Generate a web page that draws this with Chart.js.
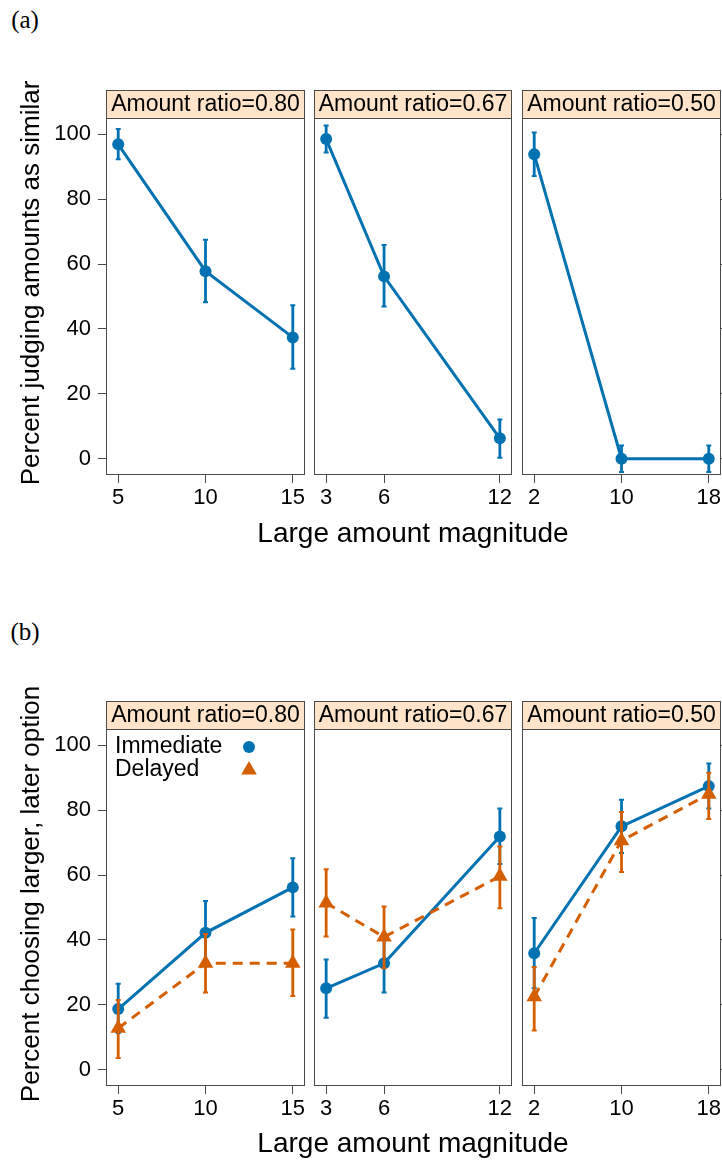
<!DOCTYPE html>
<html>
<head>
<meta charset="utf-8">
<script src="https://cdn.jsdelivr.net/npm/chart.js@4/dist/chart.umd.min.js"></script>
<style>
  html, body { margin: 0; padding: 0; background: #fff; }
  #page { position: relative; width: 722px; height: 1162px; overflow: hidden; font-family: "Liberation Sans", Arial, sans-serif; }
  canvas { position: absolute; }
  .lbl { position: absolute; white-space: nowrap; color: #000; transform: translate(-50%, -50%); }
  .ylab { transform: translate(-50%, -50%) rotate(-90deg); }
  .tag { position: absolute; font-family: "Liberation Serif", serif; font-size: 25px; transform: translate(-50%, -50%); }
</style>
</head>
<body>
<div id="page"></div>
<script>
// facets
const RATIOS = ['0.80', '0.67', '0.50'];
const MAGNITUDES = [[5, 10, 15], [3, 6, 12], [2, 10, 18]];
const Y_TICKS = [0, 20, 40, 60, 80, 100];

// (a) percent judging amounts as similar, with error bar ends
const SIMILAR    = [[96.9, 57.8, 37.4], [98.5, 56.2, 6.3], [93.8, 0, 0]];
const SIMILAR_LO = [[92.3, 48.2, 27.7], [94.4, 46.9, 0.3], [87.1, -4.1, -4.1]];
const SIMILAR_HI = [[101.6, 67.5, 47.3], [102.7, 65.9, 12.1], [100.5, 4.1, 4.1]];

// (b) percent choosing larger, later option
const IMMEDIATE    = [[18.7, 42.2, 56.2], [25.1, 32.8, 71.9], [35.9, 75.0, 87.4]];
const IMMEDIATE_LO = [[11.3, 32.8, 47.2], [16.0, 23.8, 63.4], [25.1, 66.8, 80.5]];
const IMMEDIATE_HI = [[26.5, 52.0, 65.2], [34.0, 41.8, 80.5], [46.8, 83.2, 94.4]];
const DELAYED      = [[12.8, 32.8, 32.8], [51.4, 40.9, 59.6], [22.5, 70.6, 84.9]];
const DELAYED_LO   = [[3.6, 23.8, 22.7], [41.1, 31.3, 49.8], [12.1, 60.9, 77.3]];
const DELAYED_HI   = [[21.5, 41.8, 43.2], [61.8, 50.3, 68.8], [31.7, 79.4, 91.5]];

const BLUE = '#0072B2', ORANGE = '#D55E00', AXIS = '#4a4a4a', STRIP_FILL = '#FFE4CA';
const STRIP_H = 28, PLOT_H = 357, X_H = 45;
const FACET_LEFT = [106, 313, 522], FACET_W = 199;
const PANEL_TOP = [90, 701];

Chart.defaults.font.family = '"Liberation Sans", Arial, sans-serif';
const page = document.getElementById('page');

const boxPlugin = {
  id: 'box',
  beforeDatasetsDraw(chart) {
    const {ctx, chartArea: a} = chart;
    ctx.save();
    ctx.strokeStyle = AXIS;
    ctx.lineWidth = 1;
    ctx.strokeRect(a.left + 0.5, a.top + 0.5, a.right - a.left - 1, a.bottom - a.top - 1);
    ctx.restore();
  }
};

const errorBars = {
  id: 'errorBars',
  afterDatasetDraw(chart, args) {
    const ds = chart.data.datasets[args.index];
    if (!ds.lo) return;
    const {ctx, scales: {x, y}} = chart;
    ctx.save();
    ctx.setLineDash([]);
    ctx.strokeStyle = ds.borderColor;
    ds.data.forEach((p, i) => {
      const px = x.getPixelForValue(p.x);
      const y1 = y.getPixelForValue(ds.lo[i]);
      const y2 = y.getPixelForValue(ds.hi[i]);
      ctx.lineWidth = 2.8;
      ctx.beginPath();
      ctx.moveTo(px, y1);
      ctx.lineTo(px, y2);
      ctx.stroke();
      ctx.lineWidth = 2;
      ctx.beginPath();
      ctx.moveTo(px - 2.5, y1); ctx.lineTo(px + 2.5, y1);
      ctx.moveTo(px - 2.5, y2); ctx.lineTo(px + 2.5, y2);
      ctx.stroke();
    });
    ctx.restore();
  }
};

const stripPlugin = {
  id: 'strip',
  afterDraw(chart, args, opts) {
    const {ctx, chartArea: a} = chart;
    ctx.save();
    ctx.fillStyle = STRIP_FILL;
    ctx.fillRect(a.left, a.top - STRIP_H, a.right - a.left, STRIP_H);
    ctx.strokeStyle = AXIS;
    ctx.lineWidth = 1;
    ctx.strokeRect(a.left + 0.5, a.top - STRIP_H + 0.5, a.right - a.left - 1, STRIP_H);
    ctx.fillStyle = '#000';
    ctx.font = '23px "Liberation Sans", Arial, sans-serif';
    ctx.textAlign = 'center';
    ctx.textBaseline = 'middle';
    ctx.fillText(opts.text, (a.left + a.right) / 2, a.top - STRIP_H / 2 + 1);
    ctx.restore();
  }
};

const keyPlugin = {
  id: 'key',
  afterDraw(chart, args, opts) {
    if (!opts.show) return;
    const {ctx, chartArea: a} = chart;
    ctx.save();
    ctx.font = '23px "Liberation Sans", Arial, sans-serif';
    ctx.textBaseline = 'middle';
    ctx.textAlign = 'left';
    const rows = [chart.data.datasets[0], chart.data.datasets[1]];
    rows.forEach((ds, i) => {
      const yy = a.top + 18 + i * 23;
      ctx.fillStyle = '#000';
      ctx.fillText(ds.label, a.left + 9, yy);
      ctx.fillStyle = ds.backgroundColor;
      Chart.helpers.drawPoint(ctx, {pointStyle: ds.pointStyle, radius: ds.pointRadius, rotation: 0, borderWidth: 0}, a.left + 143, yy);
    });
    ctx.restore();
  }
};

function series(label, vals, lo, hi, m, color, style, dashed) {
  return {
    label,
    data: vals.map((v, i) => ({x: m[i], y: v})),
    lo, hi,
    borderColor: color,
    backgroundColor: color,
    borderWidth: 3,
    borderDash: dashed ? [10, 7] : [],
    pointStyle: style,
    pointRadius: style === 'triangle' ? 9 : 6,
    pointBorderWidth: 0,
    pointBackgroundColor: color,
    clip: false,
    order: dashed ? 0 : 1
  };
}

function noPad(s) {
  s.paddingLeft = 0; s.paddingRight = 0; s.paddingTop = 0; s.paddingBottom = 0;
}

function facet(p, j, datasets, showKey) {
  const m = MAGNITUDES[j];
  const pad = 0.07 * (m[m.length - 1] - m[0]);
  const first = j === 0, last = j === 2;
  const cLeft = first ? 0 : FACET_LEFT[j] - 4;
  const cRight = last ? 722 : FACET_LEFT[j] + FACET_W + 4;
  const cv = document.createElement('canvas');
  cv.width = cRight - cLeft;
  cv.height = STRIP_H + PLOT_H + X_H;
  cv.style.left = cLeft + 'px';
  cv.style.top = PANEL_TOP[p] + 'px';
  page.appendChild(cv);

  new Chart(cv, {
    type: 'line',
    data: {datasets},
    options: {
      responsive: false,
      animation: false,
      devicePixelRatio: 1,
      layout: {
        autoPadding: false,
        padding: {top: STRIP_H, left: first ? 0 : 4, right: last ? 0 : 4, bottom: 0}
      },
      plugins: {
        legend: {display: false},
        tooltip: {enabled: false},
        strip: {text: 'Amount ratio=' + RATIOS[j]},
        key: {show: showKey}
      },
      scales: {
        x: {
          type: 'linear',
          min: m[0] - pad,
          max: m[m.length - 1] + pad,
          afterBuildTicks: s => { s.ticks = m.map(v => ({value: v})); },
          afterFit: s => { s.height = X_H; noPad(s); },
          grid: {drawOnChartArea: false, tickLength: 8, color: AXIS},
          border: {display: false},
          ticks: {font: {size: 22}, color: '#000', maxRotation: 0, autoSkip: false, padding: 2}
        },
        y: {
          type: 'linear',
          position: last ? 'right' : 'left',
          display: first || last,
          min: -5,
          max: 105,
          afterBuildTicks: s => { s.ticks = Y_TICKS.map(v => ({value: v})); },
          afterFit: s => { s.width = first ? FACET_LEFT[0] : 1; noPad(s); },
          grid: {drawOnChartArea: false, tickLength: 8, color: AXIS},
          border: {display: false},
          ticks: {display: first, font: {size: 22}, color: '#000', padding: 7}
        }
      }
    },
    plugins: [boxPlugin, errorBars, stripPlugin, keyPlugin]
  });
}

function addText(cls, text, x, y, size) {
  const d = document.createElement('div');
  d.className = cls;
  d.textContent = text;
  d.style.left = x + 'px';
  d.style.top = y + 'px';
  if (size) d.style.fontSize = size + 'px';
  page.appendChild(d);
}

for (let j = 0; j < 3; j++) {
  const m = MAGNITUDES[j];
  facet(0, j, [series('Similar', SIMILAR[j], SIMILAR_LO[j], SIMILAR_HI[j], m, BLUE, 'circle', false)], false);
  facet(1, j, [
    series('Immediate', IMMEDIATE[j], IMMEDIATE_LO[j], IMMEDIATE_HI[j], m, BLUE, 'circle', false),
    series('Delayed', DELAYED[j], DELAYED_LO[j], DELAYED_HI[j], m, ORANGE, 'triangle', true)
  ], j === 0);
}

addText('tag', '(a)', 25, 20);
addText('tag', '(b)', 25, 632);
addText('lbl ylab', 'Percent judging amounts as similar', 30, 282.5, 26);
addText('lbl ylab', 'Percent choosing larger, later option', 30, 893.5, 26);
addText('lbl', 'Large amount magnitude', 413, 533, 28);
addText('lbl', 'Large amount magnitude', 413, 1143, 28);
</script>
</body>
</html>
